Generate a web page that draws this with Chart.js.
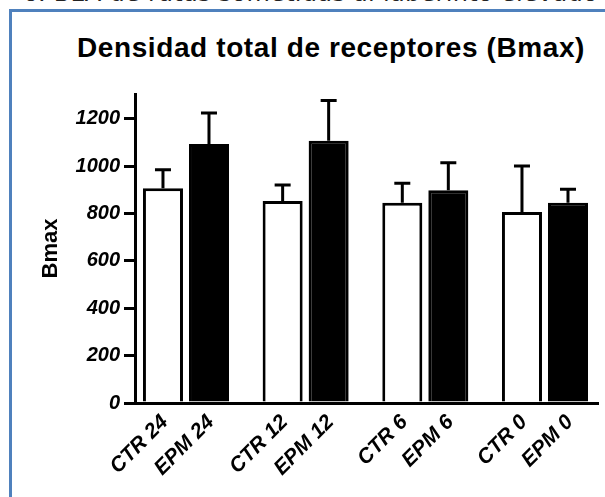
<!DOCTYPE html>
<html>
<head>
<meta charset="utf-8">
<script src="https://cdn.jsdelivr.net/npm/chart.js@4.4.0/dist/chart.umd.min.js"></script>
<style>
html, body { margin: 0; padding: 0; background: #fff; }
body { width: 605px; height: 497px; position: relative; overflow: hidden; font-family: "Liberation Sans", Arial, sans-serif; }
#caption { position: absolute; right: 7px; top: -19px; font-family: "DejaVu Sans", sans-serif; font-size: 24px; line-height: 24px; letter-spacing: 0.3px; color: #222; white-space: nowrap; }
#box { position: absolute; left: 9px; top: 9px; width: 640px; height: 540px; border-left: 3px solid #4f81bd; border-top: 3px solid #4f81bd; }
#title { position: absolute; left: 77px; top: 34px; font-weight: bold; font-size: 28px; line-height: 28px; letter-spacing: 0.6px; color: #000; white-space: nowrap; }
#wrap { position: absolute; left: 0; top: 0; width: 605px; height: 497px; }
</style>
</head>
<body>
<div id="caption">o. BLA de ratas sometidas al laberinto elevado</div>
<div id="box"></div>
<div id="title">Densidad total de receptores (Bmax)</div>
<div id="wrap"><canvas id="chart"></canvas></div>
<script>
// datos
const groups = ['24', '12', '6', '0'];
const ctrLabels = ['CTR 24', 'CTR 12', 'CTR 6', 'CTR 0'];
const epmLabels = ['EPM 24', 'EPM 12', 'EPM 6', 'EPM 0'];
const ctrMeans = [907, 853, 846, 807];
const ctrErr = [78, 68, 82, 194];
const epmMeans = [1094, 1108, 898, 846];
const epmErr = [131, 170, 117, 57];
const yTicks = [0, 200, 400, 600, 800, 1000, 1200];

const tickFont = { family: '"Liberation Sans", Arial, sans-serif', size: 20, weight: 'bold', style: 'italic' };

// barras de error (solo hacia arriba)
const errorBars = {
    id: 'errorBars',
    afterDatasetsDraw(chart) {
        const ctx = chart.ctx;
        const yScale = chart.scales.y;
        ctx.save();
        ctx.strokeStyle = '#000';
        ctx.lineWidth = 3;
        chart.data.datasets.forEach((ds, d) => {
            chart.getDatasetMeta(d).data.forEach((bar, i) => {
                const top = yScale.getPixelForValue(ds.data[i].y + ds.errors[i]);
                ctx.beginPath();
                ctx.moveTo(bar.x, bar.y);
                ctx.lineTo(bar.x, top);
                ctx.moveTo(bar.x - 8, top);
                ctx.lineTo(bar.x + 8, top);
                ctx.stroke();
            });
        });
        ctx.restore();
    }
};

// etiquetas inclinadas debajo de cada barra
const barLabels = {
    id: 'barLabels',
    afterDraw(chart) {
        const ctx = chart.ctx;
        const bottom = chart.chartArea.bottom;
        ctx.save();
        ctx.fillStyle = '#000';
        ctx.font = 'italic bold 21px "Liberation Sans", Arial, sans-serif';
        ctx.textAlign = 'right';
        ctx.textBaseline = 'middle';
        chart.data.datasets.forEach((ds, d) => {
            chart.getDatasetMeta(d).data.forEach((bar, i) => {
                ctx.save();
                ctx.translate(bar.x + 2, bottom + 16);
                ctx.rotate(-Math.PI / 4);
                ctx.fillText(ds.tickLabels[i], 0, 0);
                ctx.restore();
            });
        });
        ctx.restore();
    }
};

new Chart(document.getElementById('chart'), {
    type: 'bar',
    data: {
        datasets: [{
            label: 'CTR',
            data: ctrMeans.map((v, i) => ({ x: i, y: v })),
            errors: ctrErr,
            tickLabels: ctrLabels,
            backgroundColor: '#fff',
            borderColor: '#000',
            borderWidth: 3,
            categoryPercentage: 0.769,
            barPercentage: 0.87
        }, {
            label: 'EPM',
            data: epmMeans.map((v, i) => ({ x: i, y: v })),
            errors: epmErr,
            tickLabels: epmLabels,
            backgroundColor: '#000',
            borderColor: '#000',
            borderWidth: 3,
            categoryPercentage: 0.769,
            barPercentage: 0.87
        }]
    },
    options: {
        responsive: true,
        maintainAspectRatio: false,
        animation: false,
        layout: { padding: { left: 38, top: 94, right: 7, bottom: 94 } },
        plugins: { legend: { display: false }, tooltip: { enabled: false } },
        scales: {
            x: {
                type: 'linear',
                min: -0.426,
                max: groups.length - 1 + 0.443,
                offset: false,
                ticks: { display: false, stepSize: 1, includeBounds: false },
                grid: { display: true, drawOnChartArea: false, drawTicks: false, offset: false },
                border: { display: true, color: '#000', width: 3 },
                afterFit: s => { s.height = 0; }
            },
            y: {
                min: 0,
                max: 1305,
                afterBuildTicks: s => { s.ticks = yTicks.map(v => ({ value: v })); },
                ticks: { font: tickFont, color: '#000', padding: 4, callback: v => String(v) },
                grid: { drawOnChartArea: false, drawTicks: true, tickLength: 11, color: '#000', lineWidth: 3 },
                border: { display: true, color: '#000', width: 3 },
                title: { display: true, text: 'Bmax', color: '#000', padding: 0,
                    font: { family: '"Liberation Sans", Arial, sans-serif', size: 22, weight: 'bold' } },
                afterFit: s => { s.width = 97; }
            }
        }
    },
    plugins: [errorBars, barLabels]
});
</script>
</body>
</html>
